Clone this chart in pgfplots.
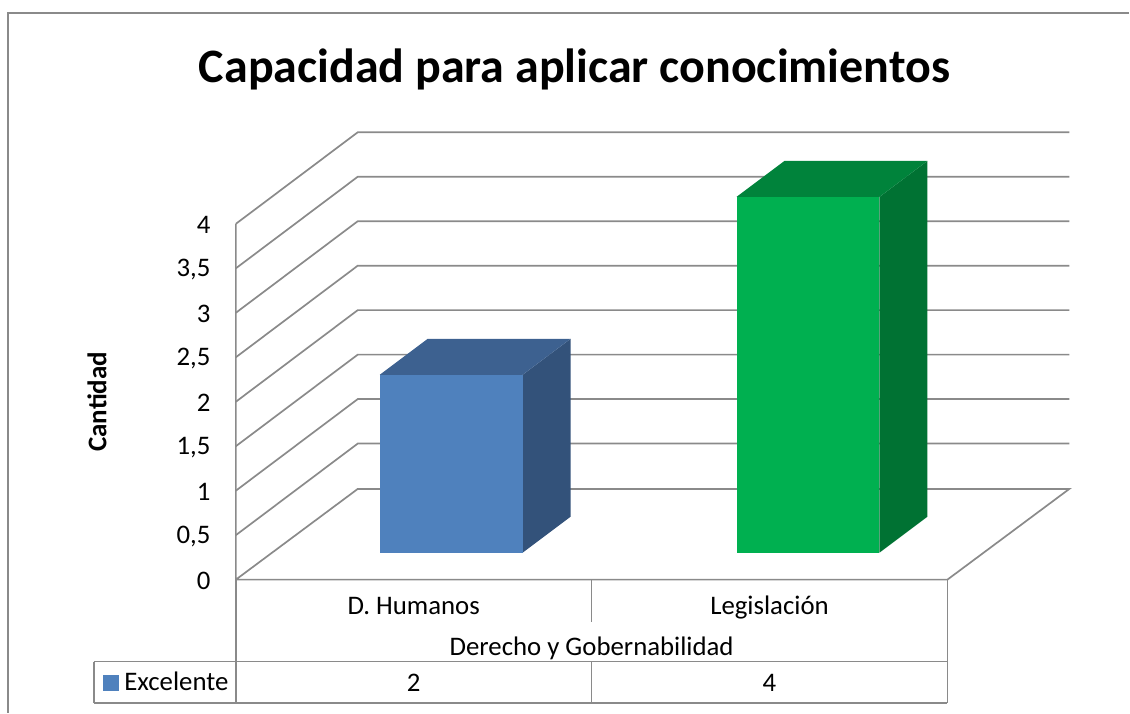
\documentclass[border=0pt]{standalone}
\usepackage{pgfplots}
\pgfplotsset{compat=1.18}
\usepackage{fontspec}
\setmainfont{Carlito}
\definecolor{gl}{HTML}{8A8A8A}
\definecolor{bf}{HTML}{4F81BD}
\definecolor{bt}{HTML}{3D6190}
\definecolor{bs}{HTML}{33527A}
\definecolor{gf}{HTML}{00B050}
\definecolor{gt}{HTML}{00833B}
\definecolor{gs}{HTML}{007233}
\pgfplotsset{gridl/.style={draw=gl,line width=1.7pt,no markers,forget plot,line join=miter}}
\newcommand{\py}[1]{{(580-#1)/89}}
\begin{document}
\begin{tikzpicture}
\begin{axis}[
  x=1pt,y=89pt,
  xmin=236,xmax=1130,ymin=-1.4944,ymax=6.5169,
  clip=false,
  axis line style={draw=none},
  xtick=\empty,
  ytick={0,0.5,1,1.5,2,2.5,3,3.5,4},
  yticklabels={0,{0,5},1,{1,5},2,{2,5},3,{3,5},4},
  major tick length=0pt,
  yticklabel style={font=\fontsize{26.8}{30}\selectfont,anchor=east,xshift=-22pt,yshift=-1.5pt},
  title={Capacidad para aplicar conocimientos},
  title style={at={(axis description cs:0.379,0.8948)},anchor=center,font=\fontsize{48}{54}\selectfont\bfseries},
  ylabel={Cantidad},
  ylabel style={at={(axis description cs:-0.1555,0.436)},anchor=center,font=\fontsize{27}{30}\selectfont\bfseries},
  legend style={at={(axis cs:103,-1.155)},anchor=west,draw=none,fill=none,inner sep=0pt,outer sep=0pt,
    font=\fontsize{26.8}{30}\selectfont,legend cell align=left},
  legend image code/.code={\fill[bf] (0pt,-7.5pt) rectangle (15pt,7.5pt); \path (19pt,0pt);},
]
\addlegendimage{}
\addlegendentry{Excelente}
% walls and floor: gridlines at each tick value
\addplot[gridl] coordinates {(236,4)(358,5.03)(1070,5.03)};
\addplot[gridl] coordinates {(236,3.5)(358,4.53)(1070,4.53)};
\addplot[gridl] coordinates {(236,3)(358,4.03)(1070,4.03)};
\addplot[gridl] coordinates {(236,2.5)(358,3.53)(1070,3.53)};
\addplot[gridl] coordinates {(236,2)(358,3.03)(1070,3.03)};
\addplot[gridl] coordinates {(236,1.5)(358,2.53)(1070,2.53)};
\addplot[gridl] coordinates {(236,1)(358,2.03)(1070,2.03)};
\addplot[gridl] coordinates {(236,0.5)(358,1.53)(1070,1.53)};
\addplot[gridl] coordinates {(236,0)(358,1.02)(1070,1.02)(948,0)(236,0)(236,4)};
% bar D. Humanos = 2
\addplot[fill=bs,draw=none,forget plot,yshift=27pt] coordinates {(523,0)(523,2)(571,2.4045)(571,0.4045)} -- cycle;
\addplot[fill=bt,draw=none,forget plot,yshift=27pt] coordinates {(380,2)(428,2.4045)(571,2.4045)(523,2)} -- cycle;
\addplot[fill=bf,draw=none,forget plot,yshift=27pt] coordinates {(380,0)(380,2)(523,2)(523,0)} -- cycle;
% bar Legislacion = 4
\addplot[fill=gs,draw=none,forget plot,yshift=27pt] coordinates {(880,0)(880,4)(928,4.4045)(928,0.4045)} -- cycle;
\addplot[fill=gt,draw=none,forget plot,yshift=27pt] coordinates {(737,4)(785,4.4045)(928,4.4045)(880,4)} -- cycle;
\addplot[fill=gf,draw=none,forget plot,yshift=27pt] coordinates {(737,0)(737,4)(880,4)(880,0)} -- cycle;
% outer frame
\draw[draw=gl,line width=1.4pt] (axis cs:8,{\py{713}}) -- (axis cs:8,{\py{13}}) -- (axis cs:1130,{\py{13}});
% data table
\draw[draw=gl,line width=1.7pt]
  (axis cs:236,0) -- (axis cs:236,{\py{703.5}})
  (axis cs:948,0) -- (axis cs:948,{\py{703.5}})
  (axis cs:592,0) -- (axis cs:592,{\py{622}})
  (axis cs:592,{\py{662}}) -- (axis cs:592,{\py{703.5}})
  (axis cs:94,{\py{662}}) -- (axis cs:948,{\py{662}})
  (axis cs:94,{\py{703.5}}) -- (axis cs:948,{\py{703.5}})
  (axis cs:94,{\py{662}}) -- (axis cs:94,{\py{703.5}});
\begin{scope}[every node/.style={font=\fontsize{26.8}{30}\selectfont,anchor=base,inner sep=0pt}]
\node at (axis cs:414,{\py{615}}) {D. Humanos};
\node at (axis cs:770,{\py{615}}) {Legislación};
\node at (axis cs:592,{\py{656}}) {Derecho y Gobernabilidad};
\node at (axis cs:414,{\py{692}}) {2};
\node at (axis cs:770,{\py{692}}) {4};
\end{scope}
\path (axis cs:0,-1.4944) rectangle (axis cs:1130,6.5169);
\end{axis}
\end{tikzpicture}
\end{document}
